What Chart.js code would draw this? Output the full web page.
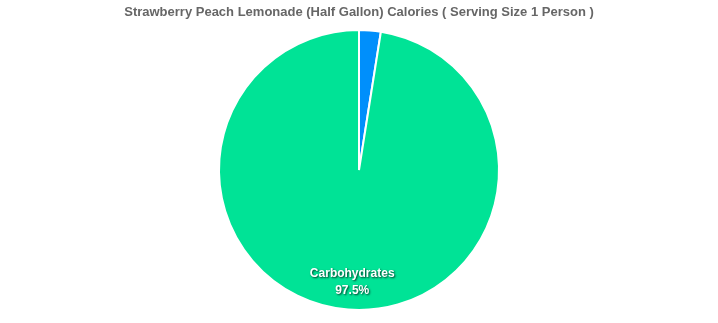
<!DOCTYPE html>
<html><head><meta charset="utf-8">
<script src="https://cdn.jsdelivr.net/npm/chart.js@4/dist/chart.umd.min.js"></script>
<style>html,body{margin:0;padding:0;background:#fff}#wrap{width:718px;height:323px}</style>
</head><body><div id="wrap"><canvas id="c" width="718" height="323"></canvas></div>
<script>
const categories = ['Protein', 'Carbohydrates'];
const values = [2.5, 97.5];
const colors = ['#008FFB', '#00E396'];
const titleText = 'Strawberry Peach Lemonade (Half Gallon) Calories ( Serving Size 1 Person )';

const labelPlugin = {
  id: 'sliceLabels',
  afterDatasetsDraw(chart) {
    const ctx = chart.ctx;
    const meta = chart.getDatasetMeta(0);
    const total = values.reduce((a, b) => a + b, 0);
    meta.data.forEach((arc, i) => {
      const pct = values[i] / total * 100;
      if (pct < 5) return;
      const mid = (arc.startAngle + arc.endAngle) / 2;
      const r = arc.outerRadius * 0.8;
      const x = arc.x + Math.cos(mid) * r + 2;
      const y = arc.y + Math.sin(mid) * r;
      ctx.save();
      ctx.font = 'bold 12px "Liberation Sans", Arial, sans-serif';
      ctx.textAlign = 'center';
      ctx.textBaseline = 'middle';
      ctx.shadowColor = 'rgba(0,0,0,0.75)';
      ctx.shadowBlur = 2;
      ctx.shadowOffsetX = 1;
      ctx.shadowOffsetY = 1;
      ctx.fillStyle = '#ffffff';
      ctx.fillText(categories[i], x, y - 8);
      ctx.fillText(pct.toFixed(1) + '%', x, y + 9);
      ctx.restore();
    });
  }
};

new Chart(document.getElementById('c'), {
  type: 'pie',
  data: {
    labels: categories,
    datasets: [{ data: values, backgroundColor: colors, borderColor: '#ffffff', borderWidth: 2 }]
  },
  options: {
    responsive: false,
    animation: false,
    layout: { padding: { top: 0, bottom: 12 } },
    plugins: {
      legend: { display: false },
      tooltip: { enabled: false },
      title: {
        display: true,
        text: titleText,
        color: '#666666',
        font: { family: '"Liberation Sans", Arial, sans-serif', size: 13, weight: 'bold' },
        padding: { top: 5, bottom: 8.4 }
      }
    }
  },
  plugins: [labelPlugin]
});
</script></body></html>
